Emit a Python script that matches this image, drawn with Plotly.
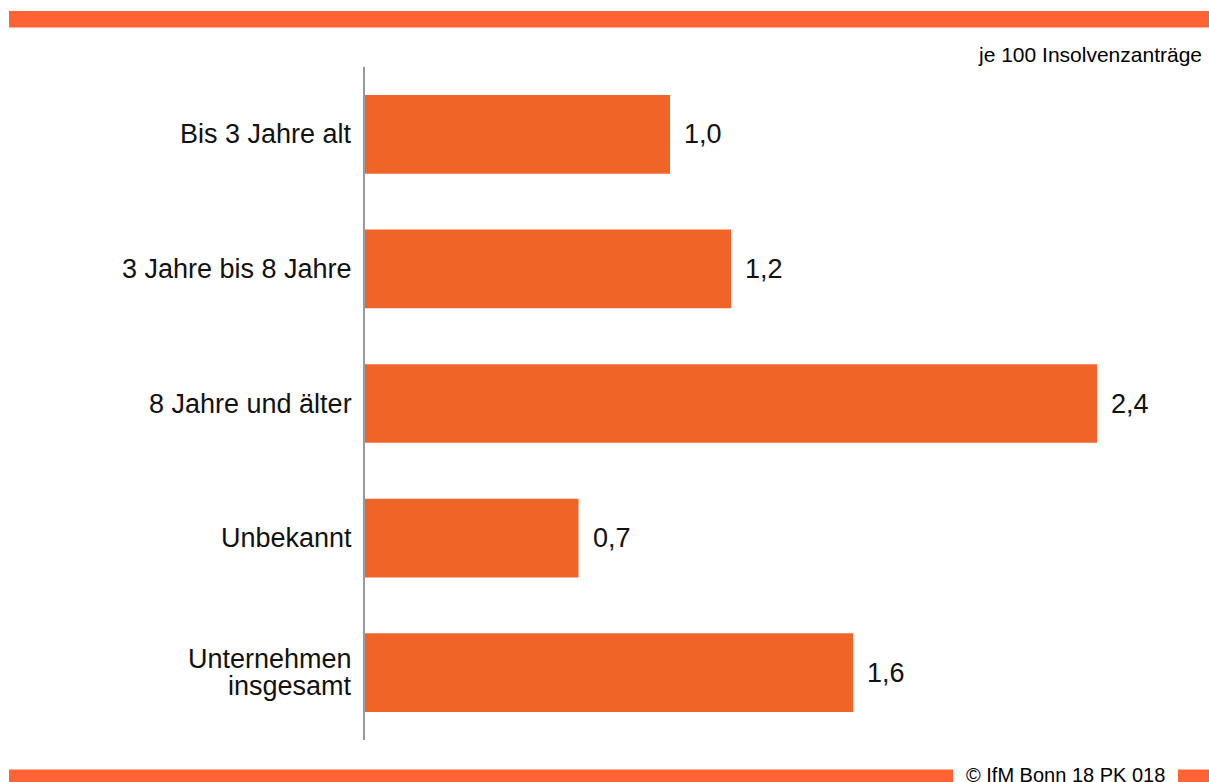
import plotly.graph_objects as go

categories = ["Bis 3 Jahre alt", "3 Jahre bis 8 Jahre", "8 Jahre und älter", "Unbekannt", "Unternehmen<br>insgesamt"]
values = [1.0, 1.2, 2.4, 0.7, 1.6]
value_labels = ["1,0", "1,2", "2,4", "0,7", "1,6"]

FONT = "Liberation Sans, Arial, sans-serif"
W, H = 1209, 782
L, R, T, B = 365, 0, 67, 42
pw, ph = W - L - R, H - T - B


def px(x):
    return (x - L) / pw


def py(y):
    return (H - B - y) / ph


fig = go.Figure()
fig.add_trace(go.Bar(
    y=categories, x=values, orientation="h",
    marker=dict(color="#F06428", line=dict(width=0)),
    width=0.585, hoverinfo="skip",
))

# value labels
for c, v, t in zip(categories, values, value_labels):
    fig.add_annotation(x=v, y=c, text=t, showarrow=False, xanchor="left",
                       xshift=12, font=dict(size=27, color="#111111", family=FONT))

# category labels (tight line spacing like the reference)
for c in categories:
    lines = c.split("<br>")
    n = len(lines)
    for i, ln in enumerate(lines):
        fig.add_annotation(xref="paper", x=0, y=c, text=ln, showarrow=False,
                           xanchor="right", xshift=-11,
                           yshift=((n - 1) / 2 - i) * 26.5,
                           font=dict(size=27, color="#111111", family=FONT))

orange = "#FF6333"
fig.add_shape(type="rect", xref="paper", yref="paper", x0=px(9), x1=px(1209),
              y0=py(27.5), y1=py(11), fillcolor=orange, line=dict(width=0), layer="above")
fig.add_shape(type="rect", xref="paper", yref="paper", x0=px(9), x1=px(953),
              y0=py(782), y1=py(769.5), fillcolor=orange, line=dict(width=0), layer="above")
fig.add_shape(type="rect", xref="paper", yref="paper", x0=px(1178), x1=px(1209),
              y0=py(782), y1=py(769.5), fillcolor=orange, line=dict(width=0), layer="above")

fig.add_annotation(xref="paper", yref="paper", x=px(1204), y=py(54), text="je 100 Insolvenzanträge",
                   showarrow=False, xanchor="right", yanchor="middle",
                   font=dict(size=21, color="#000000", family=FONT))
fig.add_annotation(xref="paper", yref="paper", x=px(1065.5), y=py(775), text="© IfM Bonn 18 PK 018",
                   showarrow=False, xanchor="center", yanchor="middle",
                   font=dict(size=20, color="#000000", family=FONT))

fig.update_layout(
    width=W, height=H,
    margin=dict(l=L, r=R, t=T, b=B, autoexpand=False),
    paper_bgcolor="white", plot_bgcolor="white",
    showlegend=False,
    font=dict(family=FONT, size=27, color="#111111"),
    xaxis=dict(range=[0, pw / 305.0], visible=False, fixedrange=True),
    yaxis=dict(autorange=False, range=[4.5, -0.5], showline=True, linecolor="#999999",
               linewidth=2, ticks="", showgrid=False, zeroline=False,
               showticklabels=False, fixedrange=True),
)

fig.write_html("out.html", config={"displayModeBar": False},
               post_script="document.body.style.margin='0';document.body.style.overflow='hidden';")
